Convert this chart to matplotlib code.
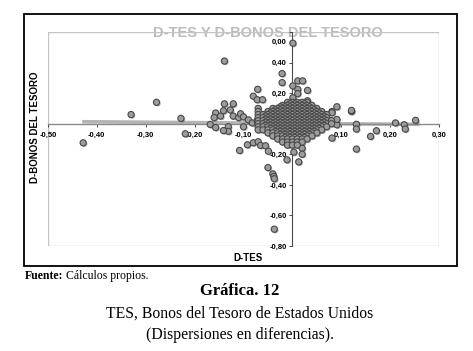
import matplotlib.pyplot as plt
import matplotlib.patheffects as pe
from matplotlib.patches import Rectangle

# scattered points (D-TES, D-BONOS DEL TESORO)
outlier_x = [-0.428, -0.330, -0.278, -0.228, -0.219, -0.139, -0.168, -0.157, -0.160,
             -0.147, -0.141, -0.139, -0.131, -0.131, -0.127, -0.121, -0.121, -0.110,
             -0.108, -0.106, -0.100, -0.100, -0.092, -0.090, -0.082, -0.080, -0.080,
             -0.072, -0.072, -0.071, -0.070, -0.065, -0.061, -0.055, -0.049, -0.050,
             -0.040, -0.038, -0.037, -0.037, -0.021, -0.021, -0.011, 0.001, 0.001,
             0.001, 0.003, 0.011, 0.011, 0.011, 0.013, 0.020, 0.020, 0.021, 0.031,
             0.031, 0.044, 0.061, 0.061, 0.081, 0.081, 0.081, 0.081, 0.088, 0.091,
             0.091, 0.091, 0.121, 0.121, 0.131, 0.131, 0.131, 0.160, 0.172, 0.211,
             0.229, 0.231, 0.252, -0.157, -0.141]
outlier_y = [-0.125, 0.060, 0.140, 0.035, -0.066, 0.410, -0.005, 0.070, 0.040,
             0.050, 0.085, 0.130, -0.020, -0.050, 0.090, 0.130, 0.050, 0.040,
             -0.175, 0.065, 0.045, -0.020, -0.138, 0.025, 0.005, 0.180, -0.125,
             0.157, 0.020, 0.225, -0.118, -0.142, 0.157, -0.144, -0.180, -0.287,
             -0.328, -0.345, -0.360, -0.690, 0.328, 0.269, -0.236, 0.527, 0.247,
             0.170, -0.186, 0.280, 0.225, 0.197, -0.250, -0.160, -0.200, 0.280, 0.218,
             0.150, 0.072, 0.072, 0.046, -0.094, 0.080, 0.072, 0.007, 0.015, -0.007,
             0.111, 0.028, 0.080, 0.087, -0.004, -0.035, -0.166, -0.083, -0.046, 0.005,
             -0.007, -0.035, 0.022, -0.025, -0.045]

# dense core of the cloud, one list of D-TES values per D-BONOS level
cluster_levels = [0.14, 0.13, 0.12, 0.11, 0.10, 0.09, 0.08, 0.07, 0.06, 0.05, 0.04,
                  0.03, 0.02, 0.01, 0.00, -0.01, -0.02, -0.03, -0.04, -0.05, -0.06,
                  -0.07, -0.08, -0.09, -0.10, -0.12, -0.14]
cluster_cols = [
    [-0.01, 0.00, 0.01, 0.02, 0.03],
    [-0.005, 0.005, 0.015, 0.025],
    [-0.02, -0.01, 0.00, 0.01, 0.02, 0.03, 0.04],
    [-0.025, -0.015, -0.005, 0.005, 0.015, 0.025, 0.035],
    [-0.07, -0.04, -0.03, -0.02, -0.01, 0.00, 0.01, 0.02, 0.03, 0.04, 0.05],
    [-0.035, -0.025, -0.015, -0.005, 0.005, 0.015, 0.025, 0.035, 0.045],
    [-0.07, -0.05, -0.04, -0.03, -0.02, -0.01, 0.00, 0.01, 0.02, 0.03, 0.04, 0.05, 0.06],
    [-0.045, -0.035, -0.025, -0.015, -0.005, 0.005, 0.015, 0.025, 0.035, 0.045, 0.055],
    [-0.07, -0.06, -0.05, -0.04, -0.03, -0.02, -0.01, 0.00, 0.01, 0.02, 0.03, 0.04, 0.05, 0.06, 0.07],
    [-0.055, -0.045, -0.035, -0.025, -0.015, -0.005, 0.005, 0.015, 0.025, 0.035, 0.045, 0.055, 0.065],
    [-0.07, -0.06, -0.05, -0.04, -0.03, -0.02, -0.01, 0.00, 0.01, 0.02, 0.03, 0.04, 0.05, 0.06, 0.07],
    [-0.055, -0.045, -0.035, -0.025, -0.015, -0.005, 0.005, 0.015, 0.025, 0.035, 0.045, 0.055, 0.065],
    [-0.07, -0.06, -0.05, -0.04, -0.03, -0.02, -0.01, 0.00, 0.01, 0.02, 0.03, 0.04, 0.05, 0.06, 0.07, 0.08],
    [-0.055, -0.045, -0.035, -0.025, -0.015, -0.005, 0.005, 0.015, 0.025, 0.035, 0.045, 0.055, 0.065],
    [-0.07, -0.06, -0.05, -0.04, -0.03, -0.02, -0.01, 0.00, 0.01, 0.02, 0.03, 0.04, 0.05, 0.06, 0.07, 0.08],
    [-0.055, -0.045, -0.035, -0.025, -0.015, -0.005, 0.005, 0.015, 0.025, 0.035, 0.045, 0.055, 0.065],
    [-0.07, -0.06, -0.05, -0.04, -0.03, -0.02, -0.01, 0.00, 0.01, 0.02, 0.03, 0.04, 0.05, 0.06, 0.07],
    [-0.045, -0.035, -0.025, -0.015, -0.005, 0.005, 0.015, 0.025, 0.035, 0.045, 0.055],
    [-0.07, -0.06, -0.05, -0.04, -0.03, -0.02, -0.01, 0.00, 0.01, 0.02, 0.03, 0.04, 0.05, 0.06],
    [-0.035, -0.025, -0.015, -0.005, 0.005, 0.015, 0.025, 0.035, 0.045],
    [-0.05, -0.04, -0.03, -0.02, -0.01, 0.00, 0.01, 0.02, 0.03, 0.04, 0.05],
    [-0.025, -0.015, -0.005, 0.005, 0.015, 0.025, 0.035],
    [-0.04, -0.03, -0.02, -0.01, 0.00, 0.01, 0.02, 0.03, 0.04],
    [-0.015, -0.005, 0.005, 0.015, 0.025],
    [-0.03, -0.02, -0.01, 0.00, 0.01, 0.02, 0.03],
    [-0.02, -0.01, 0.00, 0.01, 0.02],
    [-0.01, 0.00, 0.01],
]

trend_x = [-0.43, 0.26]
trend_y = [0.013, -0.004]

x_ticks = [-0.5, -0.4, -0.3, -0.2, -0.1, 0.0, 0.1, 0.2, 0.3]
x_tick_labels = ["-0,50", "-0,40", "-0,30", "-0,20", "-0,10", "0,00", "0,10", "0,20", "0,30"]
y_ticks = [-0.8, -0.6, -0.4, -0.2, 0.0, 0.2, 0.4, 0.6]
y_tick_labels = ["-0,80", "-0,60", "-0,40", "-0,20", "0,00", "0,20", "0,40", "0,00"]

W, H = 473, 351
fig = plt.figure(figsize=(W / 100, H / 100), dpi=100)
plt.rcParams["font.family"] = ["Liberation Sans", "DejaVu Sans"]


def fx(px):
    return px / W


def fy(py):
    return 1 - py / H


# outer frame
fig.patches.append(Rectangle((fx(24), fy(266)), fx(457) - fx(24), fy(14) - fy(266),
                             transform=fig.transFigure, fill=False, ec="black", lw=1.3))

# chart title sits behind the plot border
fig.text(fx(268), fy(37), "D-TES Y D-BONOS DEL TESORO", ha="center", va="baseline",
         fontsize=10.5, fontweight="bold", color="#bcbcbc", zorder=-1)

ax = fig.add_axes([fx(48), fy(246), fx(439) - fx(48), fy(32) - fy(246)])
ax.set_facecolor("none")
ax.set_xlim(-0.5, 0.3)
ax.set_ylim(-0.8, 0.6)

ax.add_patch(Rectangle((0, 0), 1, 1, transform=ax.transAxes, fill=False,
                       ec="#c4c4c4", lw=1.0, zorder=0.5))
for side in ["top", "right"]:
    ax.spines[side].set_visible(False)
ax.spines["left"].set_position(("data", 0))
ax.spines["bottom"].set_position(("data", 0))
ax.spines["left"].set_color("#4a4a4a")
ax.spines["left"].set_linewidth(0.8)
ax.spines["bottom"].set_color("#8a8a8a")
ax.spines["bottom"].set_linewidth(1.0)

ax.set_xticks(x_ticks)
ax.set_xticklabels(x_tick_labels)
ax.set_yticks(y_ticks)
# the top label is drawn a little below its tick, as in the original
ax.set_yticklabels(y_tick_labels[:-1] + [""])
ax.annotate(y_tick_labels[-1], (0, y_ticks[-1]), xytext=(-4, -7.2),
            textcoords="offset points", ha="right", va="center", fontsize=5.5,
            fontweight="bold")
ax.tick_params(axis="both", direction="out", length=2.5, width=0.7, color="#4a4a4a",
               labelsize=5.5, pad=1.5)
ax.tick_params(axis="x", pad=3)
for lab in ax.get_xticklabels() + ax.get_yticklabels():
    lab.set_fontweight("bold")

ax.plot(trend_x, trend_y, color="#b4b4b4", lw=2.6, solid_capstyle="butt", zorder=2)

pts_x = list(outlier_x)
pts_y = list(outlier_y)
for level, cols in zip(cluster_levels, cluster_cols):
    pts_x += cols
    pts_y += [level] * len(cols)

ax.scatter(pts_x, pts_y, s=20, facecolor="#9c9c9c", edgecolor="#484848", linewidth=0.8,
           zorder=3, clip_on=False,
           path_effects=[pe.SimplePatchShadow(offset=(0.8, -0.8), shadow_rgbFace="#505050",
                                              alpha=0.45), pe.Normal()])

fig.text(fx(248), fy(258), "D-TES", ha="center", va="center", fontsize=7, fontweight="bold")
fig.text(fx(35), fy(127), "D-BONOS DEL TESORO", ha="center", va="center", rotation=90,
         fontsize=7, fontweight="bold")

serif = ["Liberation Serif", "DejaVu Serif"]
fig.text(fx(25), fy(276), "Fuente:", ha="left", va="center", fontsize=8.5,
         fontweight="bold", family=serif)
fig.text(fx(66), fy(276), "Cálculos propios.", ha="left", va="center", fontsize=8.5,
         family=serif)
fig.text(fx(240), fy(291), "Gráfica. 12", ha="center", va="center", fontsize=12,
         fontweight="bold", family=serif)
fig.text(fx(240), fy(314), "TES, Bonos del Tesoro de Estados Unidos", ha="center",
         va="center", fontsize=11.3, family=serif)
fig.text(fx(240), fy(335), "(Dispersiones en diferencias).", ha="center", va="center",
         fontsize=11.3, family=serif)

fig.savefig("out.png", dpi=100)
